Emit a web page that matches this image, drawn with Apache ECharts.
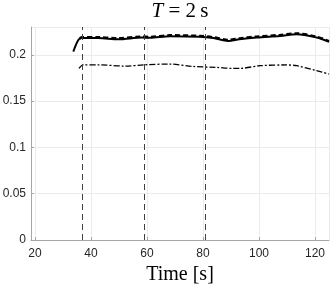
<!DOCTYPE html>
<html><head><meta charset="utf-8">
<script src="https://cdn.jsdelivr.net/npm/echarts@6/dist/echarts.min.js"></script>
<style>html,body{margin:0;padding:0;background:#fff}#c{width:332px;height:287px}</style>
</head><body><div id="c"></div>
<script>
const solidX = [33.7, 35.5, 36.7, 42.6, 49.8, 58.1, 61, 68.2, 78.9, 83.7, 89, 93, 99.2, 107.5, 113.5, 120.6, 125];
const solidY = [0.2035, 0.216, 0.218, 0.218, 0.2168, 0.2186, 0.2183, 0.2200, 0.2194, 0.218, 0.215, 0.2168, 0.2187, 0.2204, 0.2222, 0.2186, 0.214];
const dashedX = [36.0, 36.7, 42.6, 49.8, 58.1, 61, 68.2, 78.9, 83.7, 89, 93, 99.2, 107.5, 113.5, 120.6, 125];
const dashedY = [0.2172, 0.2188, 0.2189, 0.2178, 0.2194, 0.2193, 0.2210, 0.2203, 0.2189, 0.2160, 0.2177, 0.2196, 0.2213, 0.2230, 0.2194, 0.2148];
const dashDotX = [35.7, 37.3, 42.6, 52.1, 59.3, 68.2, 76.5, 84.8, 90.7, 93.2, 100.4, 109.9, 113.5, 120.6, 125];
const dashDotY = [0.1853, 0.1892, 0.1892, 0.1878, 0.1892, 0.19, 0.1874, 0.1864, 0.1853, 0.1853, 0.1882, 0.189, 0.1882, 0.1828, 0.1792];
const eventTimes = [36.8, 58.9, 80.7];
const xRange = [18.6, 125];
const yRange = [0, 0.23];
const xLabel = 'Time [s]';

const zip = (a, b) => a.map((v, i) => [v, b[i]]);
const chart = echarts.init(document.getElementById('c'));
const axisCommon = {
  axisLine: {show: true, lineStyle: {color: '#a6a6a6', width: 1}},
  axisTick: {show: true, inside: true, length: 3, lineStyle: {color: '#a6a6a6'}},
  splitLine: {show: true, lineStyle: {color: '#ebebeb', width: 1}},
  axisLabel: {color: '#262626', fontFamily: 'Liberation Sans', fontSize: 12, showMinLabel: false, showMaxLabel: false}
};
chart.setOption({
  animation: false,
  backgroundColor: '#fff',
  graphic: [{
    type: 'text', x: 180, y: 11,
    style: {
      text: '{i|T}{n| = 2\u2009s}', align: 'center', verticalAlign: 'middle',
      rich: {
        i: {fontFamily: 'Liberation Serif', fontStyle: 'italic', fontSize: 21, fill: '#000'},
        n: {fontFamily: 'Liberation Serif', fontSize: 21, fill: '#000'}
      }
    }
  }],
  grid: {left: 31, right: 3, top: 27, bottom: 47, containLabel: false, outerBoundsMode: 'none'},
  xAxis: Object.assign({}, axisCommon, {
    type: 'value', min: xRange[0], max: xRange[1], splitNumber: 5,
    name: xLabel, nameLocation: 'middle', nameGap: 23,
    nameTextStyle: {fontFamily: 'Liberation Serif', fontSize: 20, color: '#000'},
    axisLabel: Object.assign({}, axisCommon.axisLabel, {margin: 8})
  }),
  yAxis: Object.assign({}, axisCommon, {
    type: 'value', min: yRange[0], max: yRange[1], splitNumber: 5,
    axisLabel: Object.assign({}, axisCommon.axisLabel, {showMinLabel: true, margin: 5})
  }),
  series: [
    {type: 'line', data: zip(solidX, solidY), showSymbol: false, smooth: 0.3,
      lineStyle: {color: '#000', width: 2}, z: 3,
      markLine: {symbol: 'none', silent: true, label: {show: false},
        lineStyle: {color: '#404040', width: 1, type: [6, 4]},
        data: eventTimes.map(t => ({xAxis: t}))}},
    {type: 'line', data: zip(dashedX, dashedY), showSymbol: false, smooth: 0.3,
      lineStyle: {color: '#000', width: 2.5, type: [5, 3]}, z: 4},
    {type: 'line', data: zip(dashDotX, dashDotY), showSymbol: false, smooth: 0.3,
      lineStyle: {color: '#000', width: 1.3, type: [6, 2, 2, 2]}, z: 3}
  ]
});
</script></body></html>
